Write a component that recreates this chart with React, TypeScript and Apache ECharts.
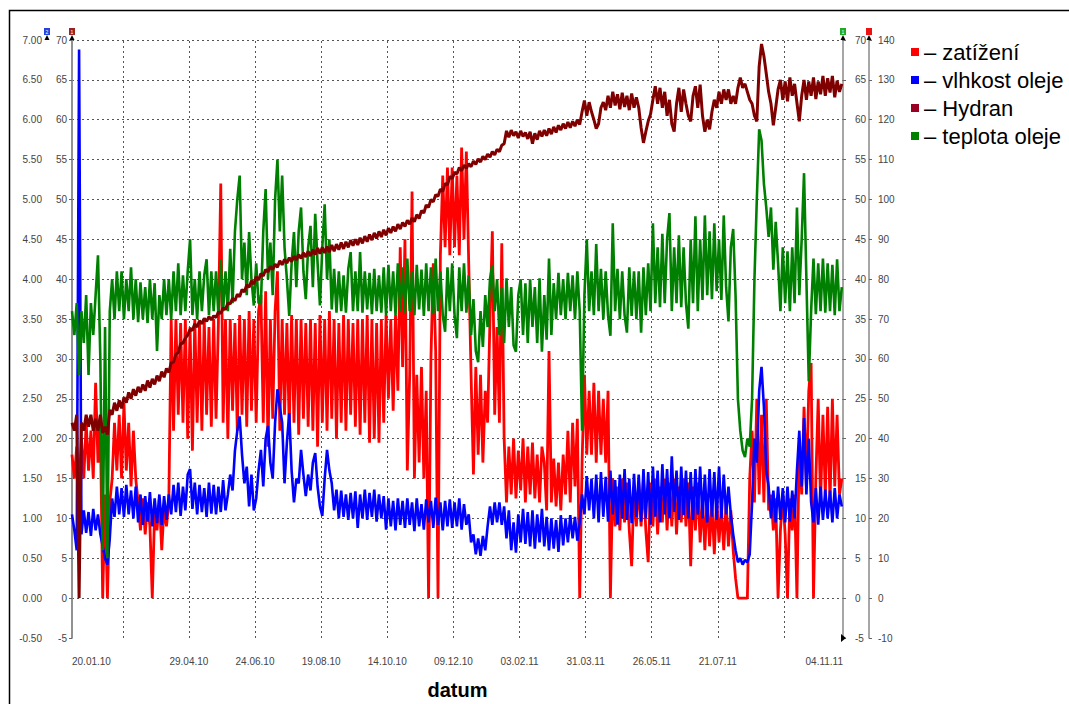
import React, { useEffect, useRef } from "react";
import * as echarts from "echarts";

// sampling: one value every STEP days, starting 20.01.10 (day 0)
const STEP = 2;
const X_MAX = 653; // 04.11.11

const xLabelDays = [0, 99, 155, 211, 267, 323, 379, 435, 491, 547, 653];
const xLabelTexts = ["20.01.10", "29.04.10", "24.06.10", "19.08.10", "14.10.10", "09.12.10", "03.02.11", "31.03.11", "26.05.11", "21.07.11", "04.11.11"];
const gridDays = [43, 99, 155, 211, 267, 323, 379, 435, 491, 547, 603];

const legendNames = ["zatížení", "vlhkost oleje", "Hydran", "teplota oleje"];

// zatížení [%] (right outer axis)
const zatizeni = [
  36,30,38,28,40,30,44,32,42,30,54,34,44,0,26,0,24,30,44,32,
  46,30,49,32,44,28,42,30,24,17,25,16,24,18,0,22,17,25,12,23,
  18,24,70,42,70,46,69,44,70,40,68,37,70,44,69,42,70,46,68,43,
  70,45,69,104,44,70,40,70,47,69,42,71,46,70,43,72,47,70,44,72,
  76,44,77,38,70,45,72,82,42,70,46,69,43,71,44,70,41,70,45,69,
  43,70,42,69,38,71,44,70,42,72,45,70,40,69,44,71,42,70,46,69,
  43,70,41,70,44,71,39,70,40,69,39,70,44,71,50,70,47,71,52,88,
  58,90,32,56,102,30,56,34,58,30,52,0,60,84,62,0,86,106,88,108,
  86,108,88,106,86,113,90,112,84,56,31,58,36,56,34,52,44,70,92,46,
  68,44,89,40,24,38,26,40,25,37,27,40,24,38,26,39,25,36,24,38,
  34,22,62,24,35,23,34,22,36,26,42,24,44,28,45,0,34,56,36,52,
  36,54,34,52,36,50,34,52,0,30,18,28,17,30,19,29,17,8,28,18,
  29,18,30,17,9,29,18,30,16,28,19,30,17,29,18,30,16,28,19,30,
  18,29,8,28,17,29,14,25,12,26,13,24,11,25,14,23,12,24,13,22,
  12,5,0,0,0,0,0,30,42,24,50,26,46,24,50,22,26,17,25,0,
  17,26,16,0,25,17,26,0,40,26,48,28,52,59,0,30,50,24,46,26,
  48,24,50,28,46,26,30,
];

// vlhkost oleje (left outer axis)
const vlhkost = [
  1.05,0.85,0.60,6.88,0.80,1.10,0.82,1.08,0.78,1.12,0.85,1.05,0.80,0.65,0.50,0.42,0.75,1.25,1.02,1.40,
  1.05,1.38,1.02,1.42,1.05,1.35,1.00,1.40,0.95,1.30,0.92,1.28,0.96,1.33,0.90,1.25,0.94,1.30,0.92,1.28,
  0.98,1.30,1.05,1.42,1.08,1.45,1.03,1.40,1.10,1.55,1.62,1.12,1.45,1.05,1.42,1.08,1.38,1.02,1.45,1.06,
  1.42,1.05,1.40,1.08,1.48,1.10,1.30,1.55,1.35,1.85,2.10,2.28,1.80,1.44,1.65,1.15,1.55,1.10,1.25,1.60,
  1.86,1.40,2.00,2.16,1.70,1.50,2.20,2.62,2.40,2.20,1.44,1.95,2.32,1.60,1.20,1.50,1.44,1.86,1.55,1.28,
  1.55,1.35,1.70,1.82,1.40,1.15,1.03,1.50,1.86,1.60,1.44,1.10,1.36,1.00,1.35,1.02,1.30,0.98,1.32,1.00,
  1.34,0.88,1.30,1.00,1.36,0.98,1.32,1.02,1.36,0.96,1.30,1.00,1.28,0.86,1.25,0.90,1.22,0.85,1.25,0.92,
  1.22,0.88,1.25,0.92,1.20,0.84,1.25,0.90,1.18,0.86,1.24,0.95,1.22,0.88,1.26,0.92,1.20,0.85,1.22,0.90,
  1.24,0.88,1.20,0.90,1.25,0.86,1.18,0.92,1.05,0.70,0.80,0.55,0.75,0.53,0.78,0.60,0.90,1.15,0.92,1.20,
  0.95,1.20,0.92,1.15,0.75,1.10,0.60,0.95,0.57,1.05,0.70,1.12,0.68,1.08,0.65,1.10,0.62,1.05,0.70,1.12,
  0.65,1.02,0.60,1.00,0.62,0.98,0.58,1.04,0.66,1.00,0.70,1.04,0.75,1.02,0.72,0.95,1.30,1.05,1.53,1.10,
  1.50,1.00,1.55,0.95,1.58,1.02,1.52,0.96,1.60,1.05,1.48,0.92,1.55,1.00,1.62,0.98,1.50,0.94,1.56,1.02,
  1.55,0.96,1.62,1.00,1.58,0.92,1.65,1.02,1.60,0.95,1.68,1.05,1.62,1.00,1.78,1.08,1.60,0.98,1.65,1.04,
  1.60,1.00,1.58,0.98,1.62,1.05,1.65,1.00,1.55,0.95,1.62,1.02,1.58,0.98,1.65,1.00,1.55,1.05,1.40,1.05,
  0.80,0.60,0.45,0.50,0.42,0.48,0.45,0.55,1.20,2.00,1.70,2.60,2.90,2.40,1.60,1.40,1.00,1.35,0.95,1.40,
  0.98,1.38,0.95,1.40,0.96,1.35,1.00,1.60,2.10,1.40,2.26,1.30,2.00,1.20,0.95,1.38,0.92,1.40,0.98,1.36,
  1.00,1.35,0.95,1.38,1.00,1.30,1.15,
];

// Hydran [ppm] (left inner axis)
const hydran = [
  22,21,23,0,22,21,23,21.5,23,21,22.5,21,23,20.7,21.5,20.5,23.6,23,24.5,23.5,
  24.8,23.8,25.2,24.5,25.8,25,26.2,25.4,26.5,25.8,26.8,26,27.3,26.4,27.5,26.8,27.9,27.2,28.4,27.7,
  28.8,28.3,29.5,29.6,30.6,30.8,31.9,32,32.6,33,33.7,33.6,34.4,34,34.8,34.4,35.1,34.7,35.3,34.9,
  35.4,35.2,35.9,35.7,36.4,36.2,37,36.9,37.6,37.3,38.1,37.8,38.7,38.4,39.3,39,39.8,39.4,40.3,39.9,
  40.7,40.4,41.2,40.9,41.6,41.2,41.9,41.5,42.3,41.8,42.5,42,42.7,42.2,42.9,42.4,43.1,42.6,43.3,42.8,
  43.5,42.9,43.7,43.1,43.9,43.2,44,43.3,44.1,43.4,44.3,43.5,44.4,43.7,44.6,43.8,44.7,44,44.9,44.2,
  45,44.3,45.2,44.5,45.4,44.7,45.6,44.9,45.8,45.1,46,45.3,46.2,45.5,46.4,45.8,46.6,46,46.9,46.3,
  47.1,46.6,47.4,46.9,47.7,47.2,48.1,47.6,48.6,48.3,49.3,49,50,49.7,50.6,50.4,51.3,51,52,51.8,
  52.9,52.6,53.4,53.2,54,53.6,54.3,53.9,54.5,54.1,54.8,54.4,55.1,54.7,55.4,55,55.7,55.3,56,55.6,
  56.3,56,56.8,57,58.6,57.8,58.7,58,58.5,57.7,58.6,57.9,58.4,57.6,58.5,57,58.3,57.5,58.6,57.9,
  58.7,58,58.9,58.2,59.1,58.4,59.3,58.7,59.5,58.9,59.7,59,59.8,59.2,60,59.4,61,62.4,60.5,62.2,
  61,60,58.9,59.5,61.5,62.2,61.2,63,61.5,63.5,61.8,63.2,61.3,63.4,61.6,63,61.2,63.3,61.5,62.8,
  61.5,59,57.1,58.5,59.8,60.7,62.5,64.2,62,64,61.5,63.5,60.5,62.5,59.5,58.5,62,64,61,63.8,
  62,60.5,59.8,63,64.2,61.5,64.4,60.5,58.5,60,58.8,61,62.5,61.5,63.5,62,63.8,62.5,63.8,62,
  63,62,64,65.3,64,64.5,63.5,62.5,62,60.5,59.8,66.7,69.5,68,65.8,63.5,62,59.3,61.5,63.8,
  65,62.5,64.8,62.3,65.3,63,64.5,62.1,59.8,63,65,62.5,64.8,63,65.3,62.6,64.8,63.2,65.5,63,
  65.2,63.4,65.5,62.8,64.9,63.5,64.5,
];

// teplota oleje [°C] (right inner axis)
const teplota = [
  36,33,37,28,36,32,38,28,37,33,38,43,30,6,34,5,36,40,35,41,
  36,41,35,40,36,41.5,35,40,34.6,39.6,35,39,34.5,40,35,39.5,31,38,35,40,
  35.5,40,35,41,36,42,35.5,40.5,36,41,45,35.5,40,35,41,36,40.5,42.5,35.5,41,
  36,41,35.5,42.4,36,41,36,43.8,37,46,50,53,40,44.6,38,45.9,40,36.7,42,37,
  37,46,51.3,40,44.6,38,50,55,46,53,44,40,35.4,42,45.9,39,46,49,41,37.5,
  44,46.7,39,48.2,42,36.7,44,49.4,40,45,36.2,41.3,35.8,41,36,40.5,35.8,41.3,43.4,36,
  41,36,43.4,35.8,41,36.2,40.8,35.6,41.3,36,40.5,35.8,41.5,35.5,41.8,36,41,35.5,42,36,
  41.5,35.8,42.6,36,41,35.5,41.8,36.2,41.2,35.4,42,36,41.5,35.6,42.6,36,41,35.5,33.4,41.5,
  36,42,35.5,32.6,41.5,36,42,35.8,40.5,33,37.5,31,29.6,36,31.5,38,34,40,41.8,36,
  40,33,39,32,40.1,34,39,31.7,30.9,38,40,33,39.5,32,40,34,39,32,40.1,30.9,
  38,32.4,42.6,33,39.5,35,40.8,35.5,40,35,40.8,36,40.5,35,41,36,21,38,45,36,
  41,35.5,44.4,36,41.3,35,41,35.5,32.9,47,36,41.3,35,41,35.5,33.3,41.5,35.4,41,35,
  41,33.3,41.5,35.5,42,36,47,37,44,36.5,45.7,37,45,48.3,36,44,37,45.5,36.5,44,
  37,33.8,45,37,47.9,36,45,37.4,48,38,46,37.5,47,38.5,45,37.4,48,39,34.7,44,
  46.3,38,25,21,18.5,17.7,20,19,25,40,50,58.8,57.4,52,49,45.3,49,41.2,47.2,42,
  36,44,37,43.5,36,44,37,49,38,45,53.3,40,27.2,36,42.6,35.6,42,36,42.6,35.8,
  42,36,41.8,35.5,42.5,36,39,
];

const COLORS = {
  red: "#ff0000",
  blue: "#0000ff",
  maroon: "#800000",
  green: "#008000",
};

const toXY = (arr: number[]) => arr.map((v, k) => [k * STEP, v]);

function axisArrow(x: number, y: number) {
  return {
    type: "polygon",
    shape: { points: [[x - 2.5, y + 5], [x, y], [x + 2.5, y + 5]] },
    style: { fill: "#000" },
    z: 100,
  };
}

function badge(x: number, color: string, label: string) {
  return {
    type: "group",
    z: 100,
    children: [
      { type: "rect", shape: { x: x - 3, y: 28, width: 6, height: 7 }, style: { fill: color } },
      { type: "text", x: x, y: 31.5, style: { text: label, fill: "#fff", fontSize: 5, align: "center", verticalAlign: "middle", fontFamily: "Liberation Sans" } },
    ],
  };
}

export default function App() {
  const ref = useRef<HTMLDivElement>(null);

  useEffect(() => {
    if (!ref.current) return;
    const chart = echarts.init(ref.current, undefined, { renderer: "svg" });

    const labelStyle = { fontSize: 10, color: "#444", fontFamily: "Liberation Sans" };
    const axisLineStyle = { color: "#8a8a8a", width: 1.5 };

    const yAxis = [
      {
        type: "value", position: "left", offset: 25, min: -0.5, max: 7, interval: 0.5,
        axisLine: { show: true, lineStyle: axisLineStyle },
        axisTick: { show: true, length: 3, lineStyle: { color: "#666" } },
        axisLabel: { ...labelStyle, margin: 5, formatter: (v: number) => v.toFixed(2) },
        splitLine: { show: false },
      },
      {
        type: "value", position: "left", offset: 0, min: -5, max: 70, interval: 5,
        axisLine: { show: true, lineStyle: axisLineStyle },
        axisTick: { show: true, length: 3, lineStyle: { color: "#666" } },
        axisLabel: { ...labelStyle, margin: 5 },
        splitLine: { show: true, showMinLine: false, lineStyle: { type: [2, 3], color: "#555", width: 1 } },
      },
      {
        type: "value", position: "right", offset: 0, min: -5, max: 70, interval: 5,
        axisLine: { show: true, lineStyle: axisLineStyle },
        axisTick: { show: true, length: 3, lineStyle: { color: "#666" } },
        axisLabel: { ...labelStyle, margin: 12 },
        splitLine: { show: false },
      },
      {
        type: "value", position: "right", offset: 26, min: -10, max: 140, interval: 10,
        axisLine: { show: true, lineStyle: axisLineStyle },
        axisTick: { show: true, length: 3, lineStyle: { color: "#666" } },
        axisLabel: { ...labelStyle, margin: 9 },
        splitLine: { show: false },
      },
    ];

    const option: any = {
      animation: false,
      backgroundColor: "#ffffff",
      textStyle: { fontFamily: "Liberation Sans, Arial, sans-serif" },
      grid: { left: 72, right: 226, top: 40, bottom: 66, containLabel: false, outerBoundsMode: "none" },
      legend: {
        orient: "vertical",
        left: 906,
        top: 36,
        itemWidth: 8,
        itemHeight: 8,
        itemGap: 6,
        icon: "rect",
        data: legendNames,
        formatter: (n: string) => "– " + n,
        textStyle: { fontSize: 22, color: "#000", fontFamily: "Liberation Sans" },
      },
      xAxis: {
        type: "value",
        min: 0,
        max: X_MAX,
        axisLine: { show: false },
        axisTick: { show: false },
        splitLine: { show: false },
        axisLabel: {
          ...labelStyle,
          margin: 18,
          customValues: xLabelDays,
          showMinLabel: true,
          showMaxLabel: true,
          alignMinLabel: "left",
          alignMaxLabel: "right",
          formatter: (v: number) => {
            const i = xLabelDays.indexOf(Math.round(v));
            return i >= 0 ? xLabelTexts[i] : "";
          },
        },
        name: "datum",
        nameLocation: "middle",
        nameGap: 42,
        nameTextStyle: { fontSize: 20, fontWeight: "bold", color: "#000", fontFamily: "Liberation Sans" },
      },
      yAxis,
      series: [
        {
          name: legendNames[0], type: "line", yAxisIndex: 3, z: 2,
          data: toXY(zatizeni), symbol: "none", showSymbol: false,
          lineStyle: { width: 2.8, color: COLORS.red, join: "bevel" }, itemStyle: { color: COLORS.red },
          markLine: {
            silent: true, z: 1, symbol: ["none", "none"], label: { show: false },
            lineStyle: { type: [2, 3], color: "#555", width: 1 },
            emphasis: { disabled: true },
            data: gridDays.map((d) => ({ xAxis: d })),
          },
        },
        {
          name: legendNames[1], type: "line", yAxisIndex: 0, z: 3,
          data: toXY(vlhkost), symbol: "none", showSymbol: false,
          lineStyle: { width: 2.6, color: COLORS.blue, join: "bevel" }, itemStyle: { color: COLORS.blue },
        },
        {
          name: legendNames[3], type: "line", yAxisIndex: 2, z: 4,
          data: toXY(teplota), symbol: "none", showSymbol: false,
          lineStyle: { width: 2.6, color: COLORS.green, join: "bevel" }, itemStyle: { color: COLORS.green },
        },
        {
          name: legendNames[2], type: "line", yAxisIndex: 1, z: 5,
          data: toXY(hydran), symbol: "none", showSymbol: false,
          lineStyle: { width: 3, color: COLORS.maroon, join: "bevel" }, itemStyle: { color: "#990022" },
        },
      ],
      graphic: [
        { type: "rect", z: 100, silent: true, shape: { x: 9.5, y: 10.5, width: 1200, height: 900 }, style: { fill: "none", stroke: "#000", lineWidth: 1.5 } },
        axisArrow(47, 35),
        axisArrow(72, 35),
        axisArrow(843, 35),
        axisArrow(869, 35),
        { type: "polygon", z: 100, shape: { points: [[841, 634], [846, 638], [841, 642]] }, style: { fill: "#000" } },
        badge(47, "#2244dd", "2"),
        badge(72, "#992222", "1"),
        badge(843, "#22aa22", "1"),
        badge(869, "#ee1111", ""),
      ],
    };

    chart.setOption(option);
    return () => chart.dispose();
  }, []);

  return (
    <div
      ref={ref}
      style={{ position: "absolute", left: 0, top: 0, width: 1069, height: 704, background: "#fff" }}
    />
  );
}
